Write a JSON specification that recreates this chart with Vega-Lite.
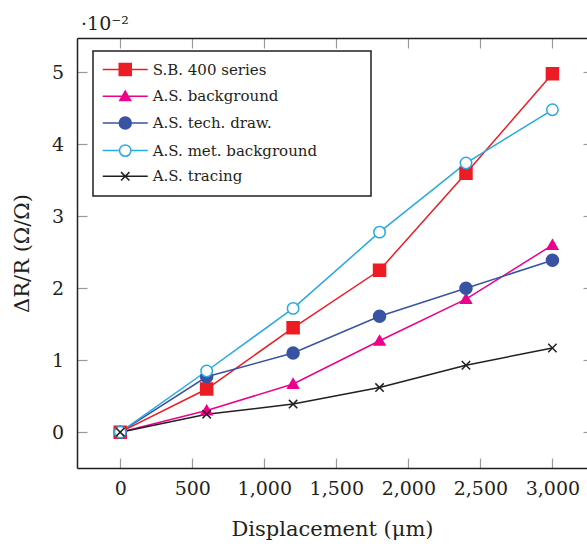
{
  "$schema": "https://vega.github.io/schema/vega-lite/v6.json",
  "width": 510,
  "height": 430,
  "autosize": {"type": "none"},
  "padding": {"left": 77, "top": 38, "right": 0, "bottom": 78},
  "title": {"text": "·10⁻²", "anchor": "start", "frame": "group", "baseline": "alphabetic", "offset": 10, "dx": 4, "dy": 22, "fontSize": 19, "fontWeight": "normal", "font": "DejaVu Serif", "color": "#231F20"},
  "config": {"view": {"stroke": null}, "font": "DejaVu Serif", "legend": {"strokeWidth": 1.5}},
  "data": {"values": [
    {"x": 0, "y": 0, "series": "S.B. 400 series"},
    {"x": 600, "y": 0.6, "series": "S.B. 400 series"},
    {"x": 1200, "y": 1.45, "series": "S.B. 400 series"},
    {"x": 1800, "y": 2.25, "series": "S.B. 400 series"},
    {"x": 2400, "y": 3.6, "series": "S.B. 400 series"},
    {"x": 3000, "y": 4.98, "series": "S.B. 400 series"},
    {"x": 0, "y": 0, "series": "A.S. background"},
    {"x": 600, "y": 0.3, "series": "A.S. background"},
    {"x": 1200, "y": 0.67, "series": "A.S. background"},
    {"x": 1800, "y": 1.27, "series": "A.S. background"},
    {"x": 2400, "y": 1.85, "series": "A.S. background"},
    {"x": 3000, "y": 2.6, "series": "A.S. background"},
    {"x": 0, "y": 0, "series": "A.S. tech. draw."},
    {"x": 600, "y": 0.77, "series": "A.S. tech. draw."},
    {"x": 1200, "y": 1.1, "series": "A.S. tech. draw."},
    {"x": 1800, "y": 1.61, "series": "A.S. tech. draw."},
    {"x": 2400, "y": 2.0, "series": "A.S. tech. draw."},
    {"x": 3000, "y": 2.39, "series": "A.S. tech. draw."},
    {"x": 0, "y": 0, "series": "A.S. met. background"},
    {"x": 600, "y": 0.85, "series": "A.S. met. background"},
    {"x": 1200, "y": 1.72, "series": "A.S. met. background"},
    {"x": 1800, "y": 2.78, "series": "A.S. met. background"},
    {"x": 2400, "y": 3.74, "series": "A.S. met. background"},
    {"x": 3000, "y": 4.48, "series": "A.S. met. background"},
    {"x": 0, "y": 0, "series": "A.S. tracing"},
    {"x": 600, "y": 0.25, "series": "A.S. tracing"},
    {"x": 1200, "y": 0.39, "series": "A.S. tracing"},
    {"x": 1800, "y": 0.62, "series": "A.S. tracing"},
    {"x": 2400, "y": 0.93, "series": "A.S. tracing"},
    {"x": 3000, "y": 1.17, "series": "A.S. tracing"}
  ]},
  "resolve": {"axis": {"x": "independent", "y": "independent"}},
  "layer": [
    {
      "mark": {"type": "line", "strokeWidth": 1.5},
      "encoding": {
        "x": {"field": "x", "type": "quantitative",
          "scale": {"domain": [-300, 3240], "nice": false, "zero": false},
          "axis": {"orient": "bottom", "values": [0, 500, 1000, 1500, 2000, 2500, 3000], "format": ",d",
            "domainColor": "#231F20", "domainWidth": 1.5, "tickColor": "#9a9a9a", "tickWidth": 1.2, "tickSize": -10,
            "labelPadding": 21.5, "labelFontSize": 19, "labelColor": "#231F20", "labelFont": "DejaVu Serif",
            "labelFlush": false, "labelOverlap": false, "grid": false,
            "title": "Displacement (μm)", "titleFontSize": 21, "titleFontWeight": "normal", "titleColor": "#231F20", "titleFont": "DejaVu Serif", "titlePadding": 20}},
        "y": {"field": "y", "type": "quantitative",
          "scale": {"domain": [-0.498, 5.478], "nice": false, "zero": false},
          "axis": {"orient": "left", "values": [0, 1, 2, 3, 4, 5], "format": "d",
            "domainColor": "#231F20", "domainWidth": 1.5, "tickColor": "#9a9a9a", "tickWidth": 1.2, "tickSize": -10,
            "labelPadding": 23.5, "labelFontSize": 19, "labelColor": "#231F20", "labelFont": "DejaVu Serif",
            "labelFlush": false, "labelOverlap": false, "grid": false,
            "title": "ΔR/R (Ω/Ω)", "titleFontSize": 21, "titleFontWeight": "normal", "titleColor": "#231F20", "titleFont": "DejaVu Serif", "titlePadding": 19}},
        "stroke": {"field": "series", "type": "nominal",
          "scale": {"domain": ["S.B. 400 series", "A.S. background", "A.S. tech. draw.", "A.S. met. background", "A.S. tracing"],
                    "range": ["#ED1C24", "#EC008C", "#3853A4", "#27AAE1", "#231F20"]}}
      }
    },
    {
      "transform": [{"filter": "false"}],
      "mark": {"type": "point", "size": 144, "strokeWidth": 1.5, "opacity": 1},
      "encoding": {
        "x": {"field": "x", "type": "quantitative", "axis": null},
        "y": {"field": "y", "type": "quantitative", "axis": null},
        "stroke": {"field": "series", "type": "nominal"},
        "fill": {"field": "series", "type": "nominal",
          "scale": {"domain": ["S.B. 400 series", "A.S. background", "A.S. tech. draw.", "A.S. met. background", "A.S. tracing"],
                    "range": ["#ED1C24", "#EC008C", "#3853A4", "#ffffff", "transparent"]}},
        "shape": {"field": "series", "type": "nominal",
          "scale": {"domain": ["S.B. 400 series", "A.S. background", "A.S. tech. draw.", "A.S. met. background", "A.S. tracing"],
                    "range": ["M-3.75,0H-1M-1,-1H1V1H-1ZM1,0H3.75M38.6,0", "M-3.75,0H3.75M0,-0.85L0.9,0.7H-0.9Z", "M-3.75,0H3.75M1,0A1,1,0,1,1,-1,0A1,1,0,1,1,1,0Z", "M-3.75,0H-0.95M0.95,0H3.75M0.95,0A0.95,0.95,0,1,1,-0.95,0A0.95,0.95,0,1,1,0.95,0Z", "M-3.75,0H3.75M-0.7,-0.7L0.7,0.7M-0.7,0.7L0.7,-0.7"]},
          "legend": {"title": null, "orient": "none", "legendX": 16, "legendY": 13,
            "padding": 11, "rowPadding": 8.7, "labelFont": "DejaVu Serif", "labelFontSize": 15, "labelColor": "#231F20", "labelLimit": 400,
            "labelOffset": 20, "symbolOffset": 13.75, "symbolSize": 144, "symbolStrokeWidth": 1.5, "symbolOpacity": 1,
            "strokeColor": "#231F20", "fillColor": "#ffffff"}}
      }
    },
    {
      "transform": [{"filter": "datum.series === 'S.B. 400 series'"}],
      "mark": {"type": "point", "shape": "M-1,-1H1V1H-1Z", "size": 144, "strokeWidth": 1.5, "opacity": 1},
      "encoding": {
        "x": {"field": "x", "type": "quantitative",
          "axis": {"orient": "top", "values": [0, 500, 1000, 1500, 2000, 2500, 3000], "labels": false, "title": null,
            "domainColor": "#231F20", "domainWidth": 1.5, "tickColor": "#9a9a9a", "tickWidth": 1.2, "tickSize": -10, "grid": false}},
        "y": {"field": "y", "type": "quantitative",
          "axis": {"orient": "right", "values": [0, 1, 2, 3, 4, 5], "labels": false, "title": null, "domain": false,
            "tickColor": "#9a9a9a", "tickWidth": 1.2, "tickSize": -4, "grid": false}},
        "stroke": {"field": "series", "type": "nominal"},
        "fill": {"field": "series", "type": "nominal"}
      }
    },
    {
      "transform": [{"filter": "datum.series === 'A.S. background'"}],
      "mark": {"type": "point", "shape": "M0,-0.85L0.9,0.7H-0.9Z", "size": 144, "strokeWidth": 1.5, "opacity": 1},
      "encoding": {
        "x": {"field": "x", "type": "quantitative", "axis": null},
        "y": {"field": "y", "type": "quantitative", "axis": null},
        "stroke": {"field": "series", "type": "nominal"},
        "fill": {"field": "series", "type": "nominal"}
      }
    },
    {
      "transform": [{"filter": "datum.series === 'A.S. tech. draw.'"}],
      "mark": {"type": "point", "shape": "M1,0A1,1,0,1,1,-1,0A1,1,0,1,1,1,0Z", "size": 144, "strokeWidth": 1.5, "opacity": 1},
      "encoding": {
        "x": {"field": "x", "type": "quantitative", "axis": null},
        "y": {"field": "y", "type": "quantitative", "axis": null},
        "stroke": {"field": "series", "type": "nominal"},
        "fill": {"field": "series", "type": "nominal"}
      }
    },
    {
      "transform": [{"filter": "datum.series === 'A.S. met. background'"}],
      "mark": {"type": "point", "shape": "M0.95,0A0.95,0.95,0,1,1,-0.95,0A0.95,0.95,0,1,1,0.95,0Z", "size": 144, "strokeWidth": 1.5, "opacity": 1},
      "encoding": {
        "x": {"field": "x", "type": "quantitative", "axis": null},
        "y": {"field": "y", "type": "quantitative", "axis": null},
        "stroke": {"field": "series", "type": "nominal"},
        "fill": {"field": "series", "type": "nominal"}
      }
    },
    {
      "transform": [{"filter": "datum.series === 'A.S. tracing'"}],
      "mark": {"type": "point", "shape": "M-0.7,-0.7L0.7,0.7M-0.7,0.7L0.7,-0.7", "size": 144, "strokeWidth": 1.5, "opacity": 1},
      "encoding": {
        "x": {"field": "x", "type": "quantitative", "axis": null},
        "y": {"field": "y", "type": "quantitative", "axis": null},
        "stroke": {"field": "series", "type": "nominal"},
        "fill": {"field": "series", "type": "nominal"}
      }
    }
  ]
}
